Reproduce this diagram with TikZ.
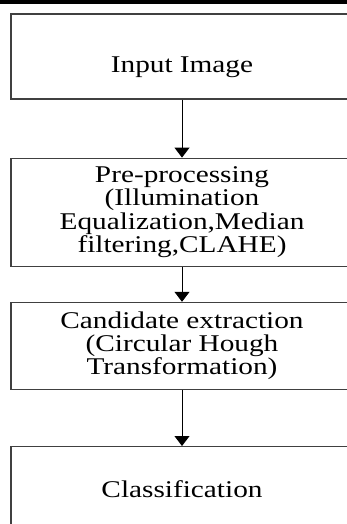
\documentclass[tikz,border=0pt]{standalone}
\usepackage{fontspec}
\setmainfont[FakeStretch=1.22]{Liberation Serif}
\usetikzlibrary{positioning,arrows.meta}

\begin{document}
\begin{tikzpicture}[
x=1pt, y=1pt,
stagebox/.style={draw=black!75, line width=1.2pt, minimum width=342pt, align=center,
  inner sep=0pt, font=\fontsize{24}{23.3}\selectfont},
flow/.style={draw=black, line width=1pt, -{Triangle[width=15pt,length=10pt]}},
]
\useasboundingbox (0,0) rectangle (347,-524);
\clip (0,0) rectangle (347,-524);
\fill[black] (0,0) rectangle (347,-4);
\node[stagebox, minimum height=85pt, text height=37pt] (input) at (182,-56.5) {Input Image};
\node[stagebox, minimum height=108pt, below=58pt of input] (prep)
{Pre-processing\\ (Illumination\\ Equalization,Median\\ filtering,CLAHE)};
\node[stagebox, minimum height=87pt, below=35pt of prep] (cand)
{Candidate extraction\\ (Circular Hough\\ Transformation)};
\node[stagebox, minimum height=86pt, below=56pt of cand] (cls) {Classification};
\draw[flow] (input) -- (prep);
\draw[flow] (prep) -- (cand);
\draw[flow] (cand) -- (cls);
\end{tikzpicture}
\end{document}
